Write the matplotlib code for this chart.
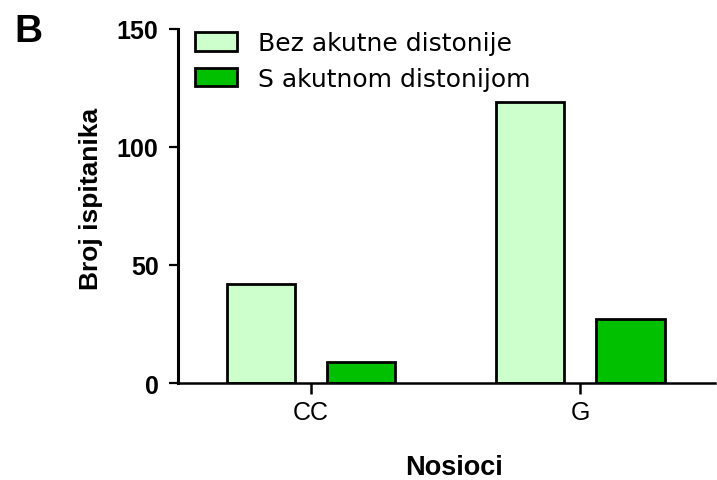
import numpy as np
import matplotlib
matplotlib.use("Agg")
import matplotlib.pyplot as plt

# ====== DADOS ======
grupos = ["CC", "G"]
bez_distonije = [42, 119]
sa_distonijom = [9, 27]
legenda = ["Bez akutne distonije", "S akutnom distonijom"]

plt.rcParams["font.family"] = ["Liberation Sans", "DejaVu Sans"]

# ====== GRAFIK ======
fig = plt.figure(figsize=(7.17, 4.81), dpi=100)
ax = fig.add_axes([178 / 717, 1 - 384 / 481, 537 / 717, 354 / 481])

x = np.arange(len(grupos))
sirina = 0.253
pomak = 0.186

ax.bar(x - pomak, bez_distonije, sirina, color="#CCFFCC", edgecolor="black",
       linewidth=2, label=legenda[0])
ax.bar(x + pomak, sa_distonijom, sirina, color="#00C000", edgecolor="black",
       linewidth=2, label=legenda[1])

ax.set_xlim(-0.494, 1.5)
ax.set_ylim(0, 150)
ax.set_yticks([0, 50, 100, 150])
ax.set_xticks(x)
ax.set_xticklabels(grupos, fontsize=18)
for lab in ax.get_yticklabels():
    lab.set_fontweight("bold")
    lab.set_fontsize(18)

ax.spines["top"].set_visible(False)
ax.spines["right"].set_visible(False)
ax.spines["left"].set_linewidth(2.2)
ax.spines["bottom"].set_linewidth(1.8)
ax.tick_params(axis="y", length=6.5, width=1.6, pad=7.5)
ax.tick_params(axis="x", length=8, width=1.8, pad=4)

ax.set_ylabel("Broj ispitanika", fontsize=19, fontweight="bold")
ax.yaxis.set_label_coords(-0.14, 0.523)
ax.set_xlabel("Nosioci", fontsize=19.5, fontweight="bold")
ax.xaxis.set_label_coords(0.514, -0.2)

ax.legend(loc="upper left", bbox_to_anchor=(195 / 717, 1 - 32 / 481),
          bbox_transform=fig.transFigure, frameon=False,
          prop={"family": "DejaVu Sans", "size": 18},
          handlelength=1.68, handleheight=0.76, handletextpad=0.84,
          labelspacing=0.46, borderpad=0, borderaxespad=0)

fig.text(14 / 717, 1 - 32 / 481, "B", fontsize=28, fontweight="bold",
         va="center", ha="left")

fig.savefig("out.png", dpi=100)
